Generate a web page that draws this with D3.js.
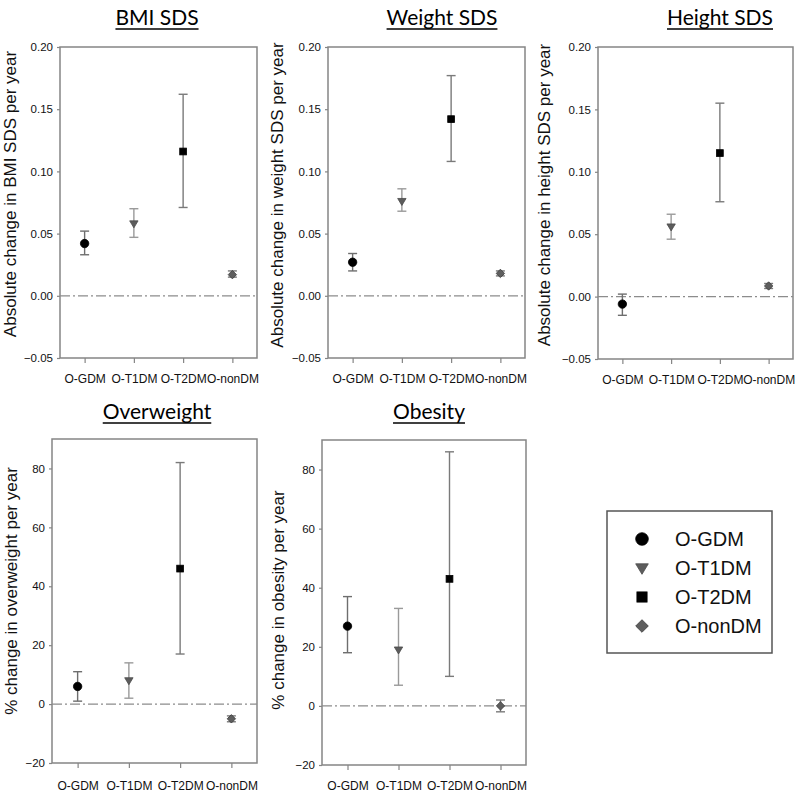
<!DOCTYPE html>
<html>
<head>
<meta charset="utf-8">
<script src="https://cdn.jsdelivr.net/npm/d3@7"></script>
<style>
  html, body { margin: 0; padding: 0; background: #fff; }
  svg { display: block; }
</style>
</head>
<body>
<svg id="chart" width="800" height="800"></svg>
<script>
// ---------- data ----------
const categories = ["O-GDM", "O-T1DM", "O-T2DM", "O-nonDM"];

const bmiMean  = [0.042, 0.058, 0.116, 0.017];
const bmiLow   = [0.033, 0.047, 0.071, 0.015];
const bmiHigh  = [0.052, 0.070, 0.162, 0.020];

const weightMean = [0.027, 0.076, 0.142, 0.018];
const weightLow  = [0.020, 0.068, 0.108, 0.016];
const weightHigh = [0.034, 0.086, 0.177, 0.020];

const heightMean = [-0.006, 0.056, 0.115, 0.0085];
const heightLow  = [-0.015, 0.046, 0.076, 0.0065];
const heightHigh = [0.002, 0.066, 0.155, 0.0105];

const overweightMean = [6, 8, 46, -5];
const overweightLow  = [1, 2, 17, -6];
const overweightHigh = [11, 14, 82, -4];

const obesityMean = [27, 19, 43, 0];
const obesityLow  = [18, 7, 10, -2];
const obesityHigh = [37, 33, 86, 2];

const sdsTicks = [-0.05, 0.00, 0.05, 0.10, 0.15, 0.20];
const pctTicks = [-20, 0, 20, 40, 60, 80];

const titles = ["BMI SDS", "Weight SDS", "Height SDS", "Overweight", "Obesity"];
const yLabels = [
  "Absolute change in BMI SDS per year",
  "Absolute change in weight SDS per year",
  "Absolute change in height SDS per year",
  "% change in overweight per year",
  "% change in obesity per year"
];

// ---------- styling / layout ----------
const markerFill   = ["#000000", "#5c5c5c", "#000000", "#5e5e5e"];
const markerStroke = ["#000000", "#4a4a4a", "#000000", "#3a3a3a"];
const barColor     = ["#6e6e6e", "#9a9a9a", "#7a7a7a", "#7a7a7a"];
const frameColor = "#858585";
const sansFont = "'Liberation Sans', Arial, Helvetica, sans-serif";

const panels = [
  { mean: bmiMean, low: bmiLow, high: bmiHigh, ticks: sdsTicks, domain: [-0.05, 0.20], fmt: d3.format(".2f"),
    left: 60, right: 257, top: 47, bottom: 358, titleX: 157, titleY: 25, labelX: 16, labelY: 194, xLabOff: 25 },
  { mean: weightMean, low: weightLow, high: weightHigh, ticks: sdsTicks, domain: [-0.05, 0.20], fmt: d3.format(".2f"),
    left: 328, right: 525, top: 47, bottom: 358, titleX: 442, titleY: 25, labelX: 283, labelY: 195, xLabOff: 25 },
  { mean: heightMean, low: heightLow, high: heightHigh, ticks: sdsTicks, domain: [-0.05, 0.20], fmt: d3.format(".2f"),
    left: 598, right: 793, top: 47, bottom: 359, titleX: 720, titleY: 25, labelX: 550, labelY: 195, xLabOff: 25 },
  { mean: overweightMean, low: overweightLow, high: overweightHigh, ticks: pctTicks, domain: [-20, 90], fmt: d3.format("d"),
    left: 52, right: 257, top: 439, bottom: 763, titleX: 157, titleY: 419, labelX: 17, labelY: 591, xLabOff: 27 },
  { mean: obesityMean, low: obesityLow, high: obesityHigh, ticks: pctTicks, domain: [-20, 90], fmt: d3.format("d"),
    left: 322, right: 526, top: 440, bottom: 765, titleX: 429, titleY: 419, labelX: 284, labelY: 600, xLabOff: 25 }
];

const svg = d3.select("#chart");

function drawMarker(g, i, x, y, s) {
  if (i === 0) {
    g.append("circle").attr("cx", x).attr("cy", y).attr("r", 4.2 * s)
      .attr("fill", markerFill[i]).attr("stroke", markerStroke[i]).attr("stroke-width", 0.8);
  } else if (i === 1) {
    const w = 4.2 * s, h = 7 * s;
    g.append("path")
      .attr("d", `M${x - w},${y - h * 0.4}L${x + w},${y - h * 0.4}L${x},${y + h * 0.6}Z`)
      .attr("fill", markerFill[i]).attr("stroke", markerStroke[i]).attr("stroke-width", 0.8);
  } else if (i === 2) {
    const a = 3.4 * s;
    g.append("rect").attr("x", x - a).attr("y", y - a).attr("width", 2 * a).attr("height", 2 * a)
      .attr("fill", markerFill[i]).attr("stroke", markerStroke[i]).attr("stroke-width", 0.8);
  } else {
    const a = 4.2 * s;
    g.append("path")
      .attr("d", `M${x},${y - a}L${x + a},${y}L${x},${y + a}L${x - a},${y}Z`)
      .attr("fill", markerFill[i]).attr("stroke", markerStroke[i]).attr("stroke-width", 0.8);
  }
}

panels.forEach((p, pi) => {
  const g = svg.append("g");
  const x = d3.scalePoint().domain(categories).range([p.left, p.right]).padding(0.5);
  const y = d3.scaleLinear().domain(p.domain).range([p.bottom, p.top]);

  // frame
  g.append("rect")
    .attr("x", p.left).attr("y", p.top)
    .attr("width", p.right - p.left).attr("height", p.bottom - p.top)
    .attr("fill", "none").attr("stroke", frameColor).attr("stroke-width", 1.5);

  // y axis
  const ya = g.append("g").attr("transform", `translate(${p.left},0)`)
    .call(d3.axisLeft(y).tickValues(p.ticks).tickFormat(p.fmt).tickSize(3).tickPadding(4));
  ya.select(".domain").remove();
  ya.selectAll(".tick line").attr("stroke", frameColor).attr("stroke-width", 1.2);
  ya.selectAll(".tick text").style("font-family", sansFont)
    .style("font-size", "11.5px").attr("fill", "#111");

  // x axis
  const xa = g.append("g").attr("transform", `translate(0,${p.bottom})`)
    .call(d3.axisBottom(x).tickSize(5).tickPadding(p.xLabOff - 14));
  xa.select(".domain").remove();
  xa.selectAll(".tick line").attr("stroke", frameColor).attr("stroke-width", 1.2);
  xa.selectAll(".tick text").style("font-family", sansFont)
    .style("font-size", "12px").attr("fill", "#111");

  // zero reference line
  g.append("line")
    .attr("x1", p.left).attr("x2", p.right)
    .attr("y1", y(0)).attr("y2", y(0))
    .attr("stroke", "#8c8c8c").attr("stroke-width", 1.3)
    .attr("stroke-dasharray", "10,3,2,3");

  // error bars + markers
  categories.forEach((c, i) => {
    const cx = x(c);
    const col = barColor[i];
    g.append("line").attr("x1", cx).attr("x2", cx)
      .attr("y1", y(p.low[i])).attr("y2", y(p.high[i]))
      .attr("stroke", col).attr("stroke-width", 1.4);
    [p.low[i], p.high[i]].forEach(v => {
      g.append("line").attr("x1", cx - 4.5).attr("x2", cx + 4.5)
        .attr("y1", y(v)).attr("y2", y(v))
        .attr("stroke", col).attr("stroke-width", 1.4);
    });
    drawMarker(g, i, cx, y(p.mean[i]), 1);
  });

  // title (underlined)
  const t = g.append("text")
    .attr("x", p.titleX).attr("y", p.titleY)
    .attr("text-anchor", "middle")
    .style("font-family", "Lato, 'Open Sans', sans-serif")
    .style("font-size", "21px")
    .attr("fill", "#000")
    .text(titles[pi]);
  const tw = t.node().getComputedTextLength();
  g.append("line")
    .attr("x1", p.titleX - tw / 2).attr("x2", p.titleX + tw / 2)
    .attr("y1", p.titleY + 4).attr("y2", p.titleY + 4)
    .attr("stroke", "#000").attr("stroke-width", 1.5);

  // y label
  g.append("text")
    .attr("transform", `translate(${p.labelX},${p.labelY}) rotate(-90)`)
    .attr("text-anchor", "middle")
    .style("font-family", sansFont)
    .style("font-size", "17px")
    .attr("fill", "#111")
    .text(yLabels[pi]);
});

// ---------- legend ----------
const lg = svg.append("g");
const legLeft = 607, legRight = 772, legTop = 511, legBottom = 653;
lg.append("rect").attr("x", legLeft).attr("y", legTop)
  .attr("width", legRight - legLeft).attr("height", legBottom - legTop)
  .attr("fill", "#fff").attr("stroke", "#555").attr("stroke-width", 1.5);
const legY = d3.scalePoint().domain(categories).range([539, 626]);
categories.forEach((c, i) => {
  const cy = legY(c);
  drawMarker(lg, i, 642, cy, 1.5);
  lg.append("text")
    .attr("x", 675).attr("y", cy)
    .attr("dy", "0.36em")
    .style("font-family", sansFont)
    .style("font-size", "20px")
    .attr("fill", "#111")
    .text(c);
});
</script>
</body>
</html>
